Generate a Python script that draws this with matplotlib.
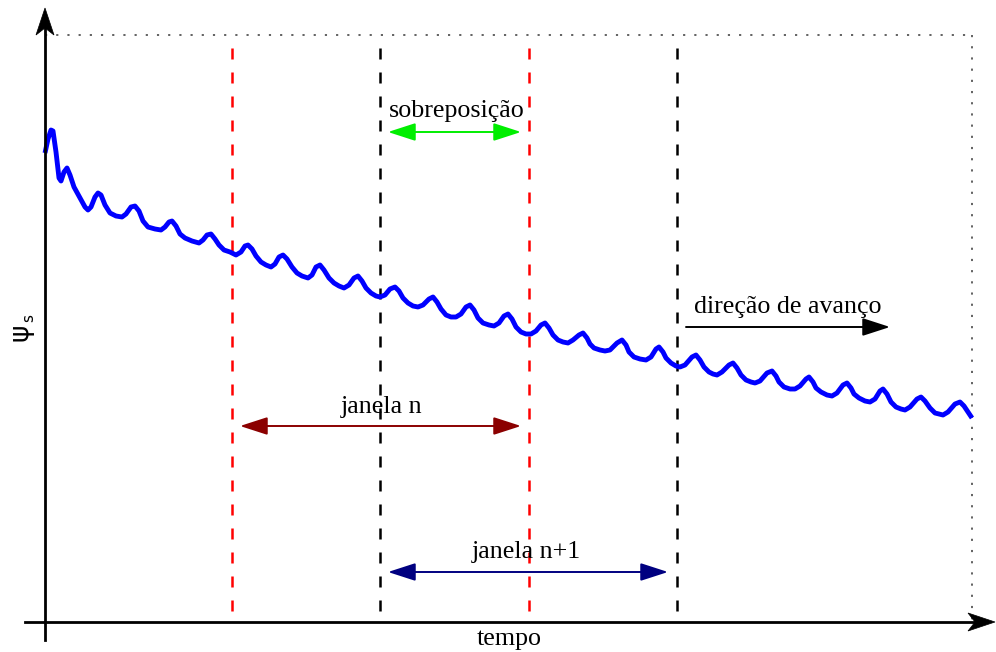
import matplotlib
matplotlib.use("Agg")
import matplotlib.pyplot as plt
from matplotlib.patches import FancyArrowPatch, Polygon
from matplotlib.transforms import ScaledTranslation

# Flux signal sampled along the time axis (arbitrary units)
tempo = [0, 3, 6, 8, 11, 14, 16, 19, 22, 25, 29, 35, 40, 43, 46, 50, 53, 56, 60,
         65, 71, 77, 81, 86, 90, 94, 98, 103, 110, 116, 120, 124, 127, 131, 135,
         140, 147, 154, 158, 162, 166, 170, 174, 179, 185, 191, 196, 200, 203, 207,
         211, 216, 221, 226, 230, 234, 238, 242, 247, 252, 257, 263, 267, 271, 275,
         279, 284, 289, 294, 299, 304, 309, 313, 317, 321, 326, 331, 335, 340, 345,
         350, 354, 358, 363, 368, 373, 378, 384, 388, 392, 396, 401, 406, 411, 416,
         421, 425, 429, 433, 438, 444, 449, 454, 459, 463, 467, 471, 476, 481, 486,
         491, 496, 500, 504, 508, 513, 518, 523, 528, 534, 538, 542, 545, 549, 555,
         560, 565, 572, 577, 581, 584, 589, 595, 601, 606, 611, 614, 618, 621, 626,
         631, 635, 640, 647, 651, 655, 659, 664, 668, 672, 677, 684, 688, 692, 696,
         701, 706, 710, 715, 722, 727, 731, 734, 739, 745, 750, 755, 761, 764, 768,
         771, 776, 782, 787, 792, 798, 802, 806, 809, 814, 820, 825, 830, 835, 838,
         842, 846, 851, 856, 860, 865, 872, 876, 880, 885, 890, 894, 898, 903, 910,
         915, 919, 923, 927]
psi_s = [469, 483, 492, 491, 470, 444, 441, 450, 454, 447, 435, 424, 415, 412, 415,
         425, 429, 427, 417, 409, 406, 405, 408, 415, 416, 411, 401, 395, 393, 392,
         395, 400, 401, 396, 388, 384, 381, 379, 382, 387, 388, 383, 377, 372, 370,
         367, 370, 376, 377, 373, 366, 360, 357, 355, 358, 365, 367, 363, 355, 349,
         346, 344, 347, 355, 357, 352, 344, 339, 336, 334, 337, 344, 346, 341, 334,
         329, 326, 325, 327, 333, 335, 331, 324, 319, 316, 315, 317, 323, 325, 320,
         313, 307, 305, 305, 308, 315, 317, 312, 304, 299, 297, 296, 299, 306, 308,
         303, 295, 290, 288, 288, 291, 297, 299, 294, 287, 282, 280, 279, 282, 287,
         289, 284, 278, 274, 272, 271, 272, 279, 282, 277, 270, 265, 263, 262, 265,
         273, 275, 270, 264, 259, 256, 255, 257, 265, 267, 262, 255, 250, 248, 247,
         250, 257, 259, 254, 247, 242, 240, 239, 241, 249, 251, 246, 240, 235, 233,
         233, 236, 243, 245, 240, 234, 230, 227, 226, 229, 237, 239, 234, 228, 224,
         221, 220, 223, 231, 233, 228, 220, 215, 213, 212, 215, 223, 225, 221, 214,
         209, 208, 207, 210, 218, 220, 216, 210, 204]

# Analysis windows (start, end) on the time axis
janela_n = (187, 484)
janela_n1 = (335, 632)

# Plot limits
t_max, psi_max = 927, 587

W, H = 996, 652
fig = plt.figure(figsize=(W / 100, H / 100), dpi=100)
ax = fig.add_axes([45 / W, 30 / H, 927 / W, 587 / H])
ax.set_xlim(0, t_max)
ax.set_ylim(0, psi_max)
ax.axis("off")

serif = ["Liberation Serif", "DejaVu Serif"]
fs = 18.7

# dotted frame (top and right)
ax.plot([0, t_max], [psi_max, psi_max], color="#555555", lw=1.3,
        linestyle=(0, (1.2, 5)), clip_on=False)
ax.plot([t_max, t_max], [psi_max, 0], color="#555555", lw=1.3,
        linestyle=(0, (1.2, 5)), clip_on=False)

# window boundaries
top = 574
for x, c in [(janela_n[0], "#ff0000"), (janela_n[1], "#ff0000"),
             (janela_n1[0], "black"), (janela_n1[1], "black")]:
    ax.plot([x, x], [top, 0], color=c, lw=1.8, dashes=(4.4, 5.2), clip_on=False)

# signal
ax.plot(tempo, psi_s, color="#0000ff", lw=3.5, solid_joinstyle="round",
        solid_capstyle="butt", clip_on=False, zorder=5)


def stealth_head(x, y, direction):
    """Notched arrow head with its tip at data point (x, y)."""
    L, hw, notch = 0.27, 0.09, 0.20
    if direction == "up":
        verts = [(0, 0), (-hw, -L), (0, -notch), (hw, -L)]
    else:
        verts = [(0, 0), (-L, hw), (-notch, 0), (-L, -hw)]
    tr = fig.dpi_scale_trans + ScaledTranslation(x, y, ax.transData)
    p = Polygon(verts, closed=True, facecolor="black", edgecolor="black",
                lw=0.5, transform=tr, clip_on=False, zorder=6)
    ax.add_patch(p)


# axes
ax.plot([0, 0], [-18, 600], color="black", lw=2.0, clip_on=False, zorder=6)
stealth_head(0, 614, "up")
ax.plot([-20, 935], [0, 0], color="black", lw=2.0, clip_on=False, zorder=6)
stealth_head(950, 0, "right")


def arrow(x0, x1, y, color, style):
    a = FancyArrowPatch((x0, y), (x1, y), arrowstyle=style, color=color,
                        lw=1.4, shrinkA=0, shrinkB=0, mutation_scale=1,
                        clip_on=False, zorder=7)
    ax.add_patch(a)


ds = "<|-|>,head_length=17,head_width=5.5"
arrow(343, 476, 490, "#00ee00", ds)
arrow(janela_n[0] + 8, janela_n[1] - 8, 196, "#8b0000", ds)
arrow(janela_n1[0] + 8, janela_n1[1] - 9, 50, "#000080", ds)
arrow(641, 845, 295, "black", "-|>,head_length=17,head_width=5.5")

ax.text(412, 505, "sobreposição", family=serif, fontsize=fs, ha="center",
        va="baseline")
ax.text(743, 309, "direção de avanço", family=serif, fontsize=fs, ha="center",
        va="baseline")
ax.text(337, 209, "janela n", family=serif, fontsize=fs, ha="center",
        va="baseline")
ax.text(481, 64, "janela n+1", family=serif, fontsize=fs, ha="center",
        va="baseline")
ax.text(464, -23, "tempo", family=serif, fontsize=fs, ha="center",
        va="baseline", clip_on=False)

# y label: ψ with subscript s, rotated
ax.text(-25, 290, "ψ", family=["DejaVu Sans"], fontsize=19, rotation=90,
        ha="center", va="center", clip_on=False)
ax.text(-16, 304, "s", family=["DejaVu Sans"], fontsize=11, rotation=90,
        ha="center", va="center", clip_on=False)

fig.savefig("out.png", dpi=100)
